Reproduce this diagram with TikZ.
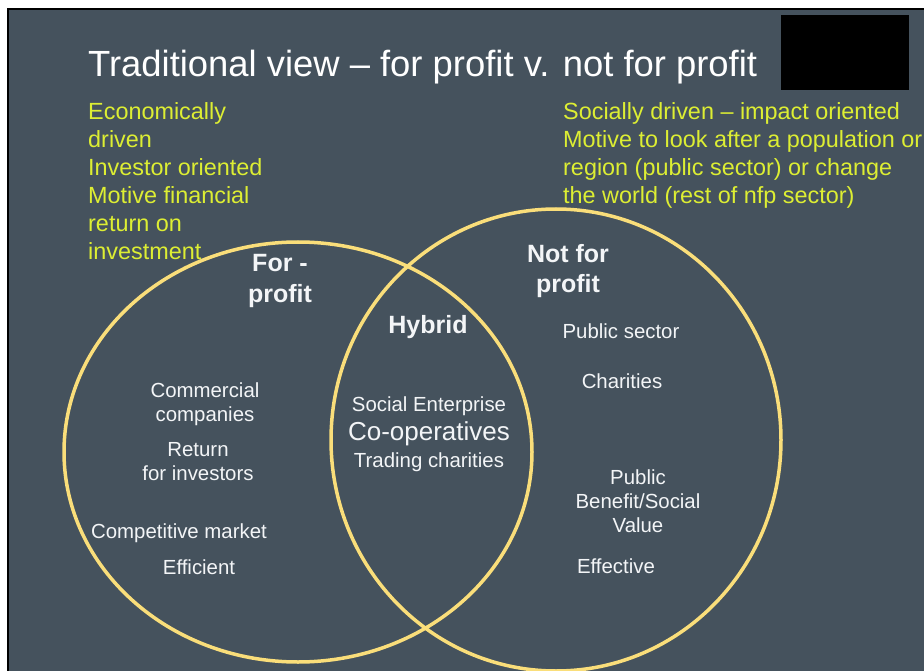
\documentclass[tikz,border=0pt]{standalone}
\usepackage{fontspec}
\setmainfont{Liberation Sans}
\usepackage{xcolor}
\definecolor{slate}{RGB}{69,82,93}
\definecolor{gold}{RGB}{250,222,122}
\definecolor{lime}{RGB}{221,238,51}
\definecolor{offwhite}{RGB}{243,245,247}

\begin{document}
\begin{tikzpicture}[x=1pt,y=-1pt,
	yellowtext/.style={text=lime,anchor=north west,align=left,inner sep=0pt,font=\fontsize{23.4}{28}\selectfont},
	whitetext/.style={text=offwhite,align=center,inner sep=0pt,font=\fontsize{20.4}{24}\selectfont},
	boldtext/.style={text=offwhite,align=center,inner sep=0pt,font=\fontsize{25}{30.5}\selectfont\bfseries},
	ring/.style={draw=gold,line width=3.5pt}]
			\useasboundingbox (0,0) rectangle (924,671);
			\fill[white] (0,0) rectangle (924,671);
			\fill[slate] (9,10) rectangle (924,671);
			\draw[line width=2pt] (8,671) -- (8,9) -- (924,9);
			\node[fill=black,minimum width=128pt,minimum height=75pt,inner sep=0pt] (mask) at (845,52.5) {};
			\begin{scope}
				\clip (9,10) rectangle (924,671);
				\draw[ring] (298,452) ellipse [x radius=234, y radius=210];
				\draw[ring] (556,440) ellipse [x radius=225, y radius=231];
				\node[text=white,anchor=base west,inner sep=0pt,font=\fontsize{36.4}{44}\selectfont] (title) at (88,77) {Traditional view -- for profit v. not for profit};
				\node[yellowtext] (economic) at (88,102) {Economically\\driven\\Investor oriented\\Motive financial\\return on\\investment};
				\node[yellowtext] (social) at (563,102) {Socially driven -- impact oriented\\Motive to look after a population or\\region (public sector) or change\\the world (rest of nfp sector)};
				\node[boldtext] (forprofit) at (280,281) {For -\\profit};
				\node[boldtext] (notforprofit) at (568,271) {Not for\\profit};
				\node[boldtext] (hybrid) at (428,327) {Hybrid};
				\node[whitetext] (commercial) at (205,404) {Commercial\\companies};
				\node[whitetext] (investors) at (198,462) {Return\\for investors};
				\node[whitetext] (market) at (179,533) {Competitive market};
				\node[whitetext] (efficient) at (199,567) {Efficient};
				\node[whitetext] (socent) at (429,406) {Social Enterprise};
				\node[whitetext,font=\fontsize{26}{30}\selectfont] (coop) at (429,434) {Co-operatives};
				\node[whitetext] (trading) at (429,462) {Trading charities};
				\node[whitetext] (publicsector) at (621,331) {Public sector};
				\node[whitetext] (charities) at (622,381) {Charities};
				\node[whitetext] (benefit) at (638,501) {Public\\Benefit/Social\\Value};
				\node[whitetext] (effective) at (616,566) {Effective};
			\end{scope}
		\end{tikzpicture}
\end{document}
